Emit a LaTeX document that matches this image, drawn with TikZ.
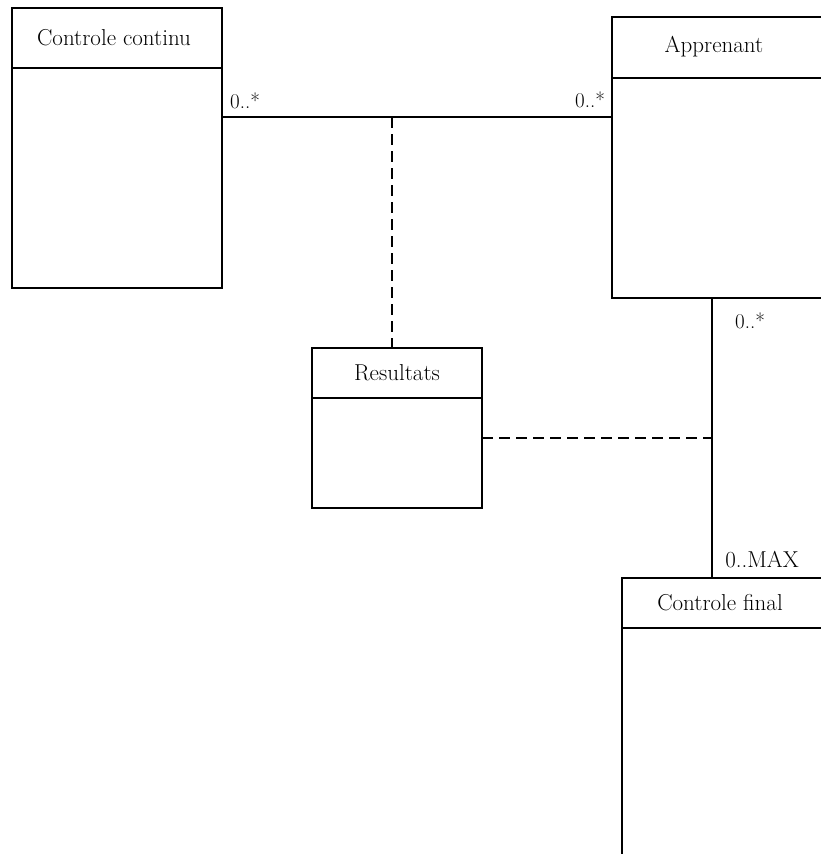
\documentclass[tikz,border=0pt]{standalone}
\usepackage{amsmath}
\usepackage{amssymb}
\usepackage{tikz}

\tikzset{
  classbox/.style={draw, line width=1.3pt, anchor=north west, inner sep=0pt, outer sep=0pt},
  assoc/.style={dash pattern=on 11pt off 6pt}
}

\begin{document}
\begin{tikzpicture}[x=1pt, y=-1pt, line width=1.3pt, font=\fontsize{23}{27}\selectfont]
    \useasboundingbox (0,0) rectangle (821,854);
    \clip (-2,-2) rectangle (821,854);
    % classes
    \node[classbox, minimum width=210pt, minimum height=280pt] (cc) at (12,8) {};
    \node[classbox, minimum width=210pt, minimum height=281pt] (ap) at (612,17) {};
    \node[classbox, minimum width=170pt, minimum height=160pt] (res) at (312,348) {};
    \node[classbox, minimum width=200pt, minimum height=300pt] (cf) at (622,578) {};
    \draw ([yshift=-60pt]cc.north west) to ([yshift=-60pt]cc.north east);
    \draw ([yshift=-61pt]ap.north west) to ([yshift=-61pt]ap.north east);
    \draw ([yshift=-50pt]res.north west) to ([yshift=-50pt]res.north east);
    \draw ([yshift=-50pt]cf.north west) to ([yshift=-50pt]cf.north east);
    \node at (114,38) {Controle continu};
    \node at (714,47) {Apprenant};
    \node at (397,373) {Resultats};
    \node at (720,603) {Controle final};
    % associations
    \coordinate (ccR) at (222,117);
    \coordinate (apL) at (612,117);
    \coordinate (m1) at (392,117);
    \coordinate (resT) at (392,348);
    \coordinate (apB) at (712,298);
    \coordinate (cfT) at (712,578);
    \coordinate (m2) at (712,438);
    \coordinate (resR) at (482,438);
    \draw (ccR) to (apL);
    \draw (apB) to (cfT);
    \draw[assoc] (m1) to (resT);
    \draw[assoc] (resR) to (m2);
    \node[font=\fontsize{21}{25}\selectfont] (l1) at (245,101) {0..*};
    \node[font=\fontsize{21}{25}\selectfont] (l2) at (590,100) {0..*};
    \node[font=\fontsize{21}{25}\selectfont] (l3) at (750,321) {0..*};
    \node (l4) at (762,560) {0..MAX};
\end{tikzpicture}
\end{document}
